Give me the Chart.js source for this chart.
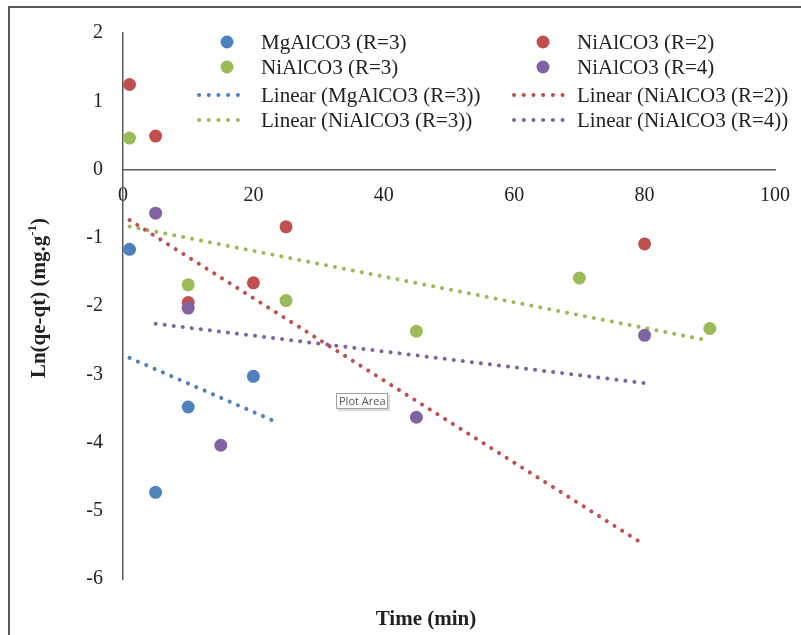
<!DOCTYPE html>
<html>
<head>
<meta charset="utf-8">
<title>Ln(qe-qt) vs Time</title>
<script src="https://cdn.jsdelivr.net/npm/chart.js@4.4.1/dist/chart.umd.min.js"></script>
<style>
    html, body { margin: 0; padding: 0; background: #fff; }
    #wrap { width: 801px; height: 635px; position: relative; }
</style>
</head>
<body>
<div id="wrap"><canvas id="kinetics" width="801" height="635"></canvas></div>
<script>
// --- DATA ---
const timeMg3 = [1, 5, 10, 20];
const lnMg3 = [-1.17, -4.73, -3.48, -3.03];

const timeNi2 = [1, 5, 10, 20, 25, 80];
const lnNi2 = [1.245, 0.49, -1.95, -1.66, -0.84, -1.09];

const timeNi3 = [1, 10, 25, 45, 70, 90];
const lnNi3 = [0.46, -1.69, -1.92, -2.37, -1.59, -2.33];

const timeNi4 = [5, 10, 15, 45, 80];
const lnNi4 = [-0.64, -2.03, -4.04, -3.63, -2.43];

// trendline end points (x start/end, y start/end)
const trendMg3X = [1, 24];
const trendMg3Y = [-2.76, -3.72];
const trendNi2X = [1, 80];
const trendNi2Y = [-0.74, -5.5];
const trendNi3X = [1, 90];
const trendNi3Y = [-0.835, -2.51];
const trendNi4X = [5, 80];
const trendNi4Y = [-2.26, -3.13];

const xTicks = [0, 20, 40, 60, 80, 100];
const yTicks = [-6, -5, -4, -3, -2, -1, 0, 1, 2];

const seriesNames = ['MgAlCO3 (R=3)', 'NiAlCO3 (R=2)', 'NiAlCO3 (R=3)', 'NiAlCO3 (R=4)'];
const colors = ['#4f81bd', '#c0504d', '#9bbb59', '#8064a2'];

const SERIF = '"Liberation Serif", "Times New Roman", serif';
const TEXT = '#222222';

function toPoints(xs, ys) {
    return xs.map((x, i) => ({ x: x, y: ys[i] }));
}

function scatterSet(label, xs, ys, color, order) {
    return {
        label: label,
        data: toPoints(xs, ys),
        showLine: false,
        pointRadius: 6.5,
        pointHoverRadius: 6.5,
        pointBackgroundColor: color,
        pointBorderWidth: 0,
        order: order
    };
}

function trendSet(label, xs, ys, color) {
    return {
        label: 'Linear (' + label + ')',
        data: toPoints(xs, ys),
        showLine: true,
        borderColor: color,
        borderWidth: 4,
        borderDash: [0.1, 9],
        borderCapStyle: 'round',
        pointRadius: 0,
        fill: false,
        order: 10
    };
}

// --- CUSTOM DRAWING: frame, legend, axis titles, "Plot Area" tag ---
const decorations = {
    id: 'decorations',
    beforeDraw(chart) {
        const ctx = chart.ctx;
        ctx.save();
        ctx.strokeStyle = '#5a5a5a';
        ctx.lineWidth = 2;
        ctx.beginPath();
        ctx.moveTo(9, 635);
        ctx.lineTo(9, 7);
        ctx.lineTo(801, 7);
        ctx.stroke();
        ctx.restore();
    },
    afterDraw(chart) {
        const ctx = chart.ctx;
        ctx.save();

        // legend, two columns
        const rows = [42, 67, 95, 120];
        const cols = [
            { marker: 227, lineFrom: 199, lineTo: 247, text: 261 },
            { marker: 543, lineFrom: 514, lineTo: 572, text: 577 }
        ];
        const entries = [
            { kind: 'dot', s: 0 }, { kind: 'dot', s: 1 },
            { kind: 'dot', s: 2 }, { kind: 'dot', s: 3 },
            { kind: 'line', s: 0 }, { kind: 'line', s: 1 },
            { kind: 'line', s: 2 }, { kind: 'line', s: 3 }
        ];
        ctx.font = '21px ' + SERIF;
        ctx.textBaseline = 'middle';
        ctx.textAlign = 'left';
        entries.forEach((e, i) => {
            const c = cols[i % 2];
            const y = rows[Math.floor(i / 2)];
            const color = colors[e.s];
            if (e.kind === 'dot') {
                ctx.fillStyle = color;
                ctx.beginPath();
                ctx.arc(c.marker, y, 6.5, 0, Math.PI * 2);
                ctx.fill();
            } else {
                ctx.strokeStyle = color;
                ctx.lineWidth = 4;
                ctx.lineCap = 'round';
                ctx.setLineDash([0.1, 9.6]);
                ctx.beginPath();
                ctx.moveTo(c.lineFrom, y);
                ctx.lineTo(c.lineTo, y);
                ctx.stroke();
                ctx.setLineDash([]);
            }
            ctx.fillStyle = TEXT;
            const label = e.kind === 'dot' ? seriesNames[e.s] : 'Linear (' + seriesNames[e.s] + ')';
            ctx.fillText(label, c.text, y + 1);
        });

        // x title
        ctx.font = 'bold 21px ' + SERIF;
        ctx.textAlign = 'center';
        ctx.textBaseline = 'middle';
        ctx.fillStyle = TEXT;
        ctx.fillText('Time (min)', 426, 620);

        // y title with superscript
        ctx.translate(38, 298);
        ctx.rotate(-Math.PI / 2);
        const main = 'Ln(qe-qt) (mg.g';
        const sup = '-1';
        const tail = ')';
        ctx.font = 'bold 21px ' + SERIF;
        const wMain = ctx.measureText(main).width;
        const wTail = ctx.measureText(tail).width;
        ctx.font = 'bold 13px ' + SERIF;
        const wSup = ctx.measureText(sup).width;
        let x = -(wMain + wSup + wTail) / 2;
        ctx.textAlign = 'left';
        ctx.textBaseline = 'alphabetic';
        ctx.font = 'bold 21px ' + SERIF;
        ctx.fillText(main, x, 7);
        x += wMain;
        ctx.font = 'bold 13px ' + SERIF;
        ctx.fillText(sup, x, -2);
        x += wSup;
        ctx.font = 'bold 21px ' + SERIF;
        ctx.fillText(tail, x, 7);
        ctx.setTransform(1, 0, 0, 1, 0, 0);

        // Plot Area tag
        ctx.fillStyle = 'rgba(0,0,0,0.15)';
        ctx.fillRect(338, 395, 52, 16);
        ctx.fillStyle = '#ffffff';
        ctx.fillRect(336, 393, 52, 16);
        ctx.strokeStyle = '#a0a0a0';
        ctx.lineWidth = 1;
        ctx.strokeRect(336.5, 393.5, 51, 15);
        ctx.fillStyle = '#555555';
        ctx.font = '11px "Open Sans", "DejaVu Sans", sans-serif';
        ctx.textAlign = 'left';
        ctx.textBaseline = 'middle';
        ctx.fillText('Plot Area', 339, 401.5);

        ctx.restore();
    }
};

// --- CHART ---
const ctx = document.getElementById('kinetics').getContext('2d');
const kineticsChart = new Chart(ctx, {
    type: 'scatter',
    data: {
        datasets: [
            scatterSet(seriesNames[0], timeMg3, lnMg3, colors[0], 4),
            scatterSet(seriesNames[1], timeNi2, lnNi2, colors[1], 3),
            scatterSet(seriesNames[2], timeNi3, lnNi3, colors[2], 2),
            scatterSet(seriesNames[3], timeNi4, lnNi4, colors[3], 1),
            trendSet(seriesNames[0], trendMg3X, trendMg3Y, colors[0]),
            trendSet(seriesNames[1], trendNi2X, trendNi2Y, colors[1]),
            trendSet(seriesNames[2], trendNi3X, trendNi3Y, colors[2]),
            trendSet(seriesNames[3], trendNi4X, trendNi4Y, colors[3])
        ]
    },
    options: {
        responsive: false,
        animation: false,
        layout: { padding: { top: 33, bottom: 56, right: 26, left: 0 } },
        plugins: {
            legend: { display: false },
            tooltip: { enabled: false }
        },
        scales: {
            x: {
                type: 'linear',
                position: { y: 0 },
                min: 0,
                max: 100,
                afterBuildTicks: scale => { scale.ticks = xTicks.map(v => ({ value: v })); },
                afterFit: scale => { scale.height = 0; scale.paddingLeft = 0; scale.paddingRight = 0; },
                grid: { display: false, drawTicks: false },
                border: { display: true, color: '#595959', width: 1.5 },
                ticks: { padding: 14, color: TEXT, font: { family: SERIF, size: 20 } }
            },
            y: {
                type: 'linear',
                position: 'left',
                min: -6,
                max: 2,
                afterBuildTicks: scale => { scale.ticks = yTicks.map(v => ({ value: v })); },
                afterFit: scale => { scale.width = 123; scale.paddingTop = 0; scale.paddingBottom = 0; },
                grid: { display: false, drawTicks: false },
                border: { display: true, color: '#595959', width: 1.5 },
                ticks: { padding: 20, color: TEXT, font: { family: SERIF, size: 20 } }
            }
        }
    },
    plugins: [decorations]
});
</script>
</body>
</html>
